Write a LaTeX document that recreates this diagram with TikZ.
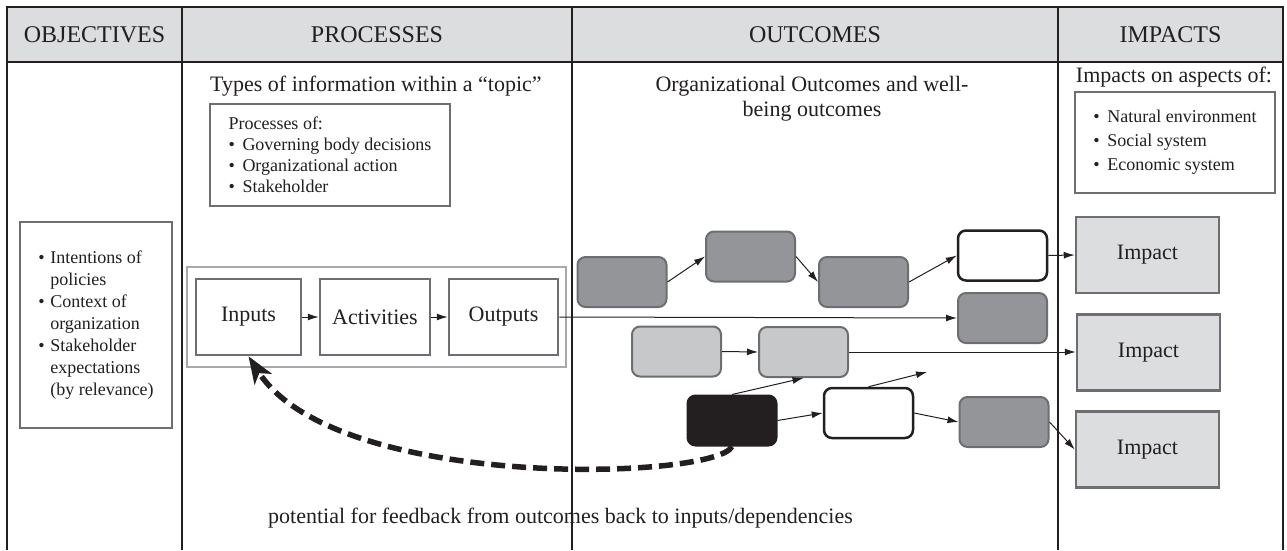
\documentclass[tikz,border=0pt]{standalone}
\usepackage{fontspec}
\setmainfont{Liberation Serif}
\usetikzlibrary{arrows.meta}
\definecolor{ink}{HTML}{231F20}
\definecolor{hdrgray}{HTML}{DCDDDE}
\definecolor{boxborder}{HTML}{6D6E71}
\definecolor{framegray}{HTML}{A7A9AC}
\definecolor{darkbox}{HTML}{939598}
\definecolor{lightbox}{HTML}{C7C8CA}
\begin{document}
\begin{tikzpicture}[x=1pt,y=-1pt,
  every node/.style={text=ink},
  hdr/.style={font=\fontsize{24}{28}\selectfont},
  lbl/.style={font=\fontsize{22}{25}\selectfont},
  listbox/.style={draw=boxborder, line width=2.5pt, fill=white, inner sep=0pt, align=left},
  procbox/.style={draw=boxborder, line width=2.5pt, fill=white, inner sep=0pt, minimum height=76pt, font=\fontsize{22}{25}\selectfont},
  impbox/.style={draw=boxborder, line width=2.5pt, fill=hdrgray, inner sep=0pt, minimum width=143pt, minimum height=76pt, font=\fontsize{22}{25}\selectfont},
  obox/.style={rounded corners=8pt, minimum width=89pt, minimum height=50pt, line width=2pt, draw=boxborder, inner sep=0pt},
  darkob/.style={obox, fill=darkbox},
  lightob/.style={obox, fill=lightbox},
  blackob/.style={obox, fill=ink, draw=ink},
  whiteob/.style={obox, fill=white, draw=ink, line width=2.5pt},
  arr/.style={draw=ink, line width=1pt, -{Latex[length=11pt,width=7pt]}},
  feedback/.style={draw=ink, line width=5.5pt, dash pattern=on 14pt off 7pt, -{Stealth[length=27pt,width=20pt,inset=7pt]}},
  tabline/.style={draw=ink, line width=1.2pt},
  tabouter/.style={draw=ink, line width=2.5pt}
]
\useasboundingbox (0,0) rectangle (1287,550);
% table
\fill[hdrgray] (7,7) rectangle (1283,62);
\draw[tabline] (182,7) -- (182,550);
\draw[tabline] (572,7) -- (572,550);
\draw[tabline] (1058,7) -- (1058,550);
\draw[tabouter] (7,550) -- (7,7) -- (1283,7) -- (1283,550);
\draw[draw=ink, line width=2pt] (7,62) -- (1283,62);
% headers
\node[hdr] (hObj) at (94.5,35) {OBJECTIVES};
\node[hdr] (hProc) at (377,35) {PROCESSES};
\node[hdr] (hOut) at (815,35) {OUTCOMES};
\node[hdr] (hImp) at (1170.5,35) {IMPACTS};
% objectives
\node[listbox, minimum width=152pt, minimum height=206pt, font=\fontsize{18}{22}\selectfont] (obj) at (96,325)
 {\makebox[12pt][l]{\textbullet}Intentions of\\\hspace*{12pt}policies\\
  \makebox[12pt][l]{\textbullet}Context of\\\hspace*{12pt}organization\\
  \makebox[12pt][l]{\textbullet}Stakeholder\\\hspace*{12pt}expectations\\\hspace*{12pt}(by relevance)};
% processes
\node[lbl, anchor=west, inner sep=0pt] (types) at (210,86) {Types of information within a “topic”};
\node[listbox, minimum width=240pt, minimum height=102pt, font=\fontsize{18}{21}\selectfont] (procof) at (330,155)
 {Processes of:\\
  \makebox[14pt][l]{\textbullet}Governing body decisions\\
  \makebox[14pt][l]{\textbullet}Organizational action\\
  \makebox[14pt][l]{\textbullet}Stakeholder};
\node[draw=framegray, line width=2.5pt, minimum width=379pt, minimum height=100pt, inner sep=0pt] (frame) at (376.5,317) {};
\node[procbox, minimum width=105pt] (inputs) at (248.5,317) {Inputs};
\node[procbox, minimum width=110pt] (activities) at (375,317) {Activities};
\node[procbox, minimum width=109pt] (outputs) at (503.5,317) {Outputs};
\draw[arr] (inputs) -- (activities);
\draw[arr] (activities) -- (outputs);
% outcomes
\node[lbl, align=center] (orgout) at (812,99) {Organizational Outcomes and well-\\being outcomes};
\node[darkob] (A) at (622,282) {};
\node[darkob] (B) at (750.5,256.5) {};
\node[darkob] (C) at (863.5,282) {};
\node[whiteob] (D) at (1002.5,255.5) {};
\node[darkob] (E) at (1002.5,318) {};
\node[lightob] (F) at (676.5,351.5) {};
\node[lightob] (G) at (803.5,352) {};
\node[blackob] (H) at (732,420.5) {};
\node[whiteob] (I) at (868.5,413) {};
\node[darkob] (J) at (1004,422) {};
\coordinate (Ifree) at (927,372);
% impacts
\node[lbl] (impon) at (1174,77) {Impacts on aspects of:};
\node[listbox, minimum width=200pt, minimum height=101pt, font=\fontsize{18}{24}\selectfont] (impbox) at (1175,142.5)
 {\makebox[14pt][l]{\textbullet}Natural environment\\
  \makebox[14pt][l]{\textbullet}Social system\\
  \makebox[14pt][l]{\textbullet}Economic system};
\node[impbox] (imp1) at (1147.5,255) {Impact};
\node[impbox] (imp2) at (1148.5,352.5) {Impact};
\node[impbox] (imp3) at (1147.5,449.5) {Impact};
% connectors
\draw[arr] (A.east) -- (B.west);
\draw[arr] (B.east) -- (C.west);
\draw[arr] (C.east) -- (D.west);
\draw[arr] (D.east) -- (imp1.west);
\draw[arr] (outputs.east) -- (E.west);
\draw[arr] (F.east) -- (G.west);
\draw[arr] (G.east) -- (G.east -| imp2.west);
\draw[arr] (H.north) -- (G.south);
\draw[arr] (I.north) -- (Ifree);
\draw[arr] (H.east) -- (I.west);
\draw[arr] (I.east) -- (J.west);
\draw[arr] (J.east) -- (imp3.west);
% feedback
\draw[feedback] (H.south) .. controls (715,480) and (335,492) .. (inputs.south);
\node[font=\fontsize{22}{26}\selectfont, anchor=west, inner sep=0pt] (fbtext) at (268,518) {potential for feedback from outcomes back to inputs/dependencies};
\draw[tabline] (572,490) -- (572,550);
\end{tikzpicture}
\end{document}
